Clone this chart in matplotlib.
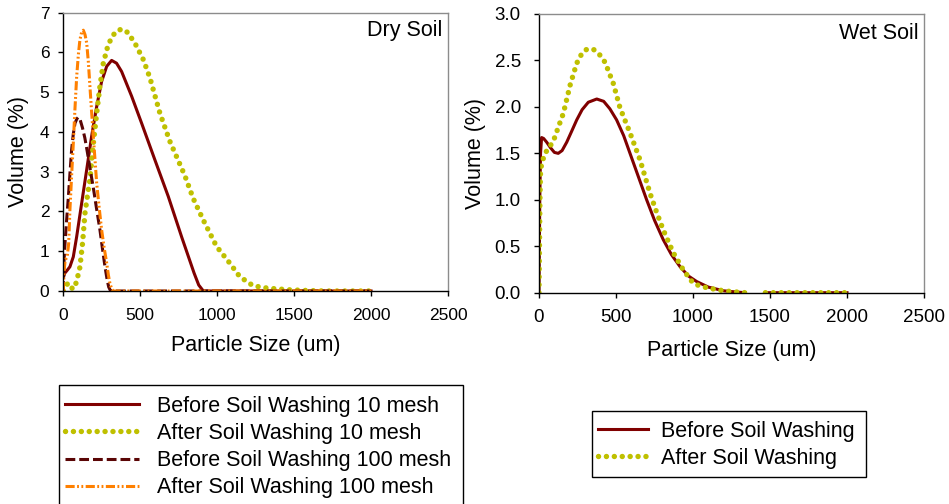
import numpy as np
import matplotlib
matplotlib.use("Agg")
import matplotlib.pyplot as plt
from matplotlib.patches import Rectangle

plt.rcParams['font.family'] = ['Liberation Sans', 'DejaVu Sans']

# ---------------- Dry soil ----------------
dry_before10_x = [0, 10, 25, 43, 65, 87, 119, 152, 184, 217, 249, 282, 314, 346, 379,
                  444, 509, 595, 682, 770, 850, 880, 910, 1000, 1250, 1500, 1750, 2000]
dry_before10_y = [0.35, 0.45, 0.52, 0.61, 0.86, 1.37, 2.2, 3.05, 3.89, 4.64, 5.27, 5.65, 5.8, 5.73, 5.52,
                  4.9, 4.22, 3.3, 2.38, 1.35, 0.45, 0.15, 0.0, 0.0, 0.0, 0.0, 0.0, 0.0]

dry_after10_x = [0, 15, 30, 45, 60, 75, 90, 108, 125, 141, 157, 173, 195, 217, 238, 260, 285,
                 310, 340, 379, 420, 470, 520, 563, 628, 693, 736, 790, 844, 909, 996, 1082,
                 1147, 1234, 1330, 1470, 1600, 1700, 2000]
dry_after10_y = [0.0, 0.1, 0.2, 0.15, 0.05, 0.1, 0.3, 0.6, 1.2, 1.96, 2.4, 2.8, 3.7, 4.47, 5.15, 5.73, 6.1,
                 6.35, 6.52, 6.59, 6.5, 6.2, 5.82, 5.36, 4.47, 3.76, 3.38, 2.9, 2.33, 1.79, 1.12, 0.7,
                 0.36, 0.13, 0.07, 0.03, 0.01, 0.0, 0.0]

dry_before100_x = [0, 4, 11, 22, 33, 44, 54, 65, 76, 88, 97, 110, 125, 140, 156, 175, 195,
                   215, 238, 255, 271, 285, 295, 305, 315, 500, 1000, 1500, 2000]
dry_before100_y = [0.0, 0.7, 1.2, 1.8, 2.37, 3.0, 3.55, 3.95, 4.22, 4.33, 4.37, 4.3, 4.1, 3.85, 3.5, 3.05, 2.6,
                   2.1, 1.54, 1.05, 0.61, 0.28, 0.1, 0.02, 0.0, 0.0, 0.0, 0.0, 0.0]

dry_after100_x = [0, 5, 12, 25, 35, 43, 54, 65, 76, 87, 98, 108, 120, 130, 141, 152, 163, 173,
                  184, 195, 206, 217, 233, 249, 265, 282, 293, 303, 315, 325, 500, 1000, 1500, 2000]
dry_after100_y = [0.0, 0.5, 0.78, 0.85, 1.2, 2.04, 2.9, 3.72, 4.6, 5.4, 5.95, 6.32, 6.52, 6.56, 6.45, 6.24, 5.75, 5.15,
                  4.5, 3.89, 3.3, 2.71, 2.1, 1.54, 1.1, 0.7, 0.4, 0.19, 0.05, 0.0, 0.0, 0.0, 0.0, 0.0]

# ---------------- Wet soil ----------------
wet_before_x = [0, 5, 10, 17, 30, 50, 75, 100, 125, 150, 180, 210, 245, 280, 320, 375, 420, 460,
                504, 550, 591, 645, 699, 750, 807, 860, 916, 970, 1024, 1100, 1200, 1300, 1340,
                1400, 1470, 1600, 1800, 2000]
wet_before_y = [0.0, 1.0, 1.5, 1.67, 1.66, 1.62, 1.56, 1.51, 1.5, 1.53, 1.62, 1.73, 1.86, 1.97, 2.05, 2.085, 2.06, 1.98,
                1.86, 1.69, 1.5, 1.25, 1.0, 0.78, 0.57, 0.41, 0.28, 0.18, 0.12, 0.06, 0.02, 0.005, 0.0,
                np.nan, 0.0, 0.0, 0.0, 0.0]

wet_after_x = [0, 3, 6, 10, 17, 39, 60, 93, 125, 158, 203, 245, 280, 310, 353, 390, 429, 483,
               526, 591, 656, 721, 765, 807, 872, 937, 1002, 1050, 1100, 1200, 1300, 1340,
               1400, 1470, 1600, 1800, 2000]
wet_after_y = [0.0, 0.5, 1.0, 1.3, 1.39, 1.5, 1.55, 1.63, 1.78, 1.93, 2.24, 2.47, 2.58, 2.62, 2.62, 2.57, 2.48, 2.25,
               1.99, 1.72, 1.43, 1.07, 0.86, 0.675, 0.43, 0.245, 0.10, 0.07, 0.05, 0.02, 0.005, 0.0,
               np.nan, 0.0, 0.0, 0.0, 0.0]

dry_labels = ["Before Soil Washing 10 mesh", "After Soil Washing 10 mesh",
              "Before Soil Washing 100 mesh", "After Soil Washing 100 mesh"]
wet_labels = ["Before Soil Washing", "After Soil Washing"]
x_ticks = [0, 500, 1000, 1500, 2000, 2500]
dry_yticks = [0, 1, 2, 3, 4, 5, 6, 7]
wet_yticks = [0.0, 0.5, 1.0, 1.5, 2.0, 2.5, 3.0]

C_BEFORE = "#800000"
C_BEFORE100 = "#5a0505"
C_AFTER = "#bfc000"
C_AFTER100 = "#ff8000"

solid_kw = dict(color=C_BEFORE, lw=2.2, linestyle="-")
dot_kw = dict(color=C_AFTER, lw=3.9, linestyle=(0, (0.01, 1.45)), dash_capstyle="round")
dash_kw = dict(color=C_BEFORE100, lw=2.2, linestyle=(0, (3.2, 1.3)))
dashdot_kw = dict(color=C_AFTER100, lw=2.2, linestyle=(0, (3.0, 0.8, 0.6, 0.8, 0.6, 0.8)))

W, H = 949, 504
fig = plt.figure(figsize=(W / 100, H / 100), dpi=100)


def style_axes(ax, yticks, yfmt, ticksize, xpad, ypad, xlabelpad, ylabelpad):
    ax.set_xlim(0, 2500)
    ax.set_ylim(yticks[0], yticks[-1])
    ax.set_xticks(x_ticks)
    ax.set_yticks(yticks)
    ax.set_yticklabels([yfmt.format(v) for v in yticks])
    for s in ("left", "bottom"):
        ax.spines[s].set_color("black")
        ax.spines[s].set_linewidth(1.0)
    for s in ("top", "right"):
        ax.spines[s].set_color("#8c8c8c")
        ax.spines[s].set_linewidth(1.0)
    ax.tick_params(direction="out", length=3.5, width=1, labelsize=ticksize,
                   top=False, right=False)
    ax.tick_params(axis="x", pad=xpad)
    ax.tick_params(axis="y", pad=ypad)
    ax.set_xlabel("Particle Size (um)", fontsize=15.5, labelpad=xlabelpad)
    ax.set_ylabel("Volume (%)", fontsize=15.5, labelpad=ylabelpad)


ax1 = fig.add_axes([63.3 / W, 1 - 291 / H, (448 - 63.3) / W, (291 - 12.7) / H])
h1, = ax1.plot(dry_before10_x, dry_before10_y, **solid_kw)
h2, = ax1.plot(dry_after10_x, dry_after10_y, **dot_kw)
h3, = ax1.plot(dry_before100_x, dry_before100_y, **dash_kw)
h4, = ax1.plot(dry_after100_x, dry_after100_y, **dashdot_kw)
style_axes(ax1, dry_yticks, "{:.0f}", 12.5, 8.5, 6.5, 9, 8)
ax1.text(0.985, 0.935, "Dry Soil", transform=ax1.transAxes, ha="right", va="center", fontsize=15.5)

ax2 = fig.add_axes([539 / W, 1 - 292.7 / H, (924 - 539) / W, (292.7 - 14) / H])
g1, = ax2.plot(wet_before_x, wet_before_y, **solid_kw)
g2, = ax2.plot(wet_after_x, wet_after_y, **dot_kw)
style_axes(ax2, wet_yticks, "{:.1f}", 13.5, 8, 9.5, 10, 6)
ax2.text(0.985, 0.93, "Wet Soil", transform=ax2.transAxes, ha="right", va="center", fontsize=15.5)

# legend boxes
fig.add_artist(Rectangle((59 / W, -0.05), (463 - 59) / W, 1 - 385 / H + 0.05,
                         transform=fig.transFigure, fill=False, edgecolor="black", lw=1.0))
fig.add_artist(Rectangle((592 / W, 1 - 477 / H), (866 - 592) / W, (477 - 411) / H,
                         transform=fig.transFigure, fill=False, edgecolor="black", lw=1.0))

fig.legend([h1, h2, h3, h4], dry_labels, loc="upper left",
           bbox_to_anchor=(65 / W, 1 - 396 / H), frameon=False, borderpad=0, borderaxespad=0,
           handlelength=3.44, handletextpad=0.84, labelspacing=0.28, fontsize=15.5)
fig.legend([g1, g2], wet_labels, loc="upper left",
           bbox_to_anchor=(598 / W, 1 - 421 / H), frameon=False, borderpad=0, borderaxespad=0,
           handlelength=2.33, handletextpad=0.6, labelspacing=0.28, fontsize=15.5)

fig.savefig("out.png", dpi=100)
